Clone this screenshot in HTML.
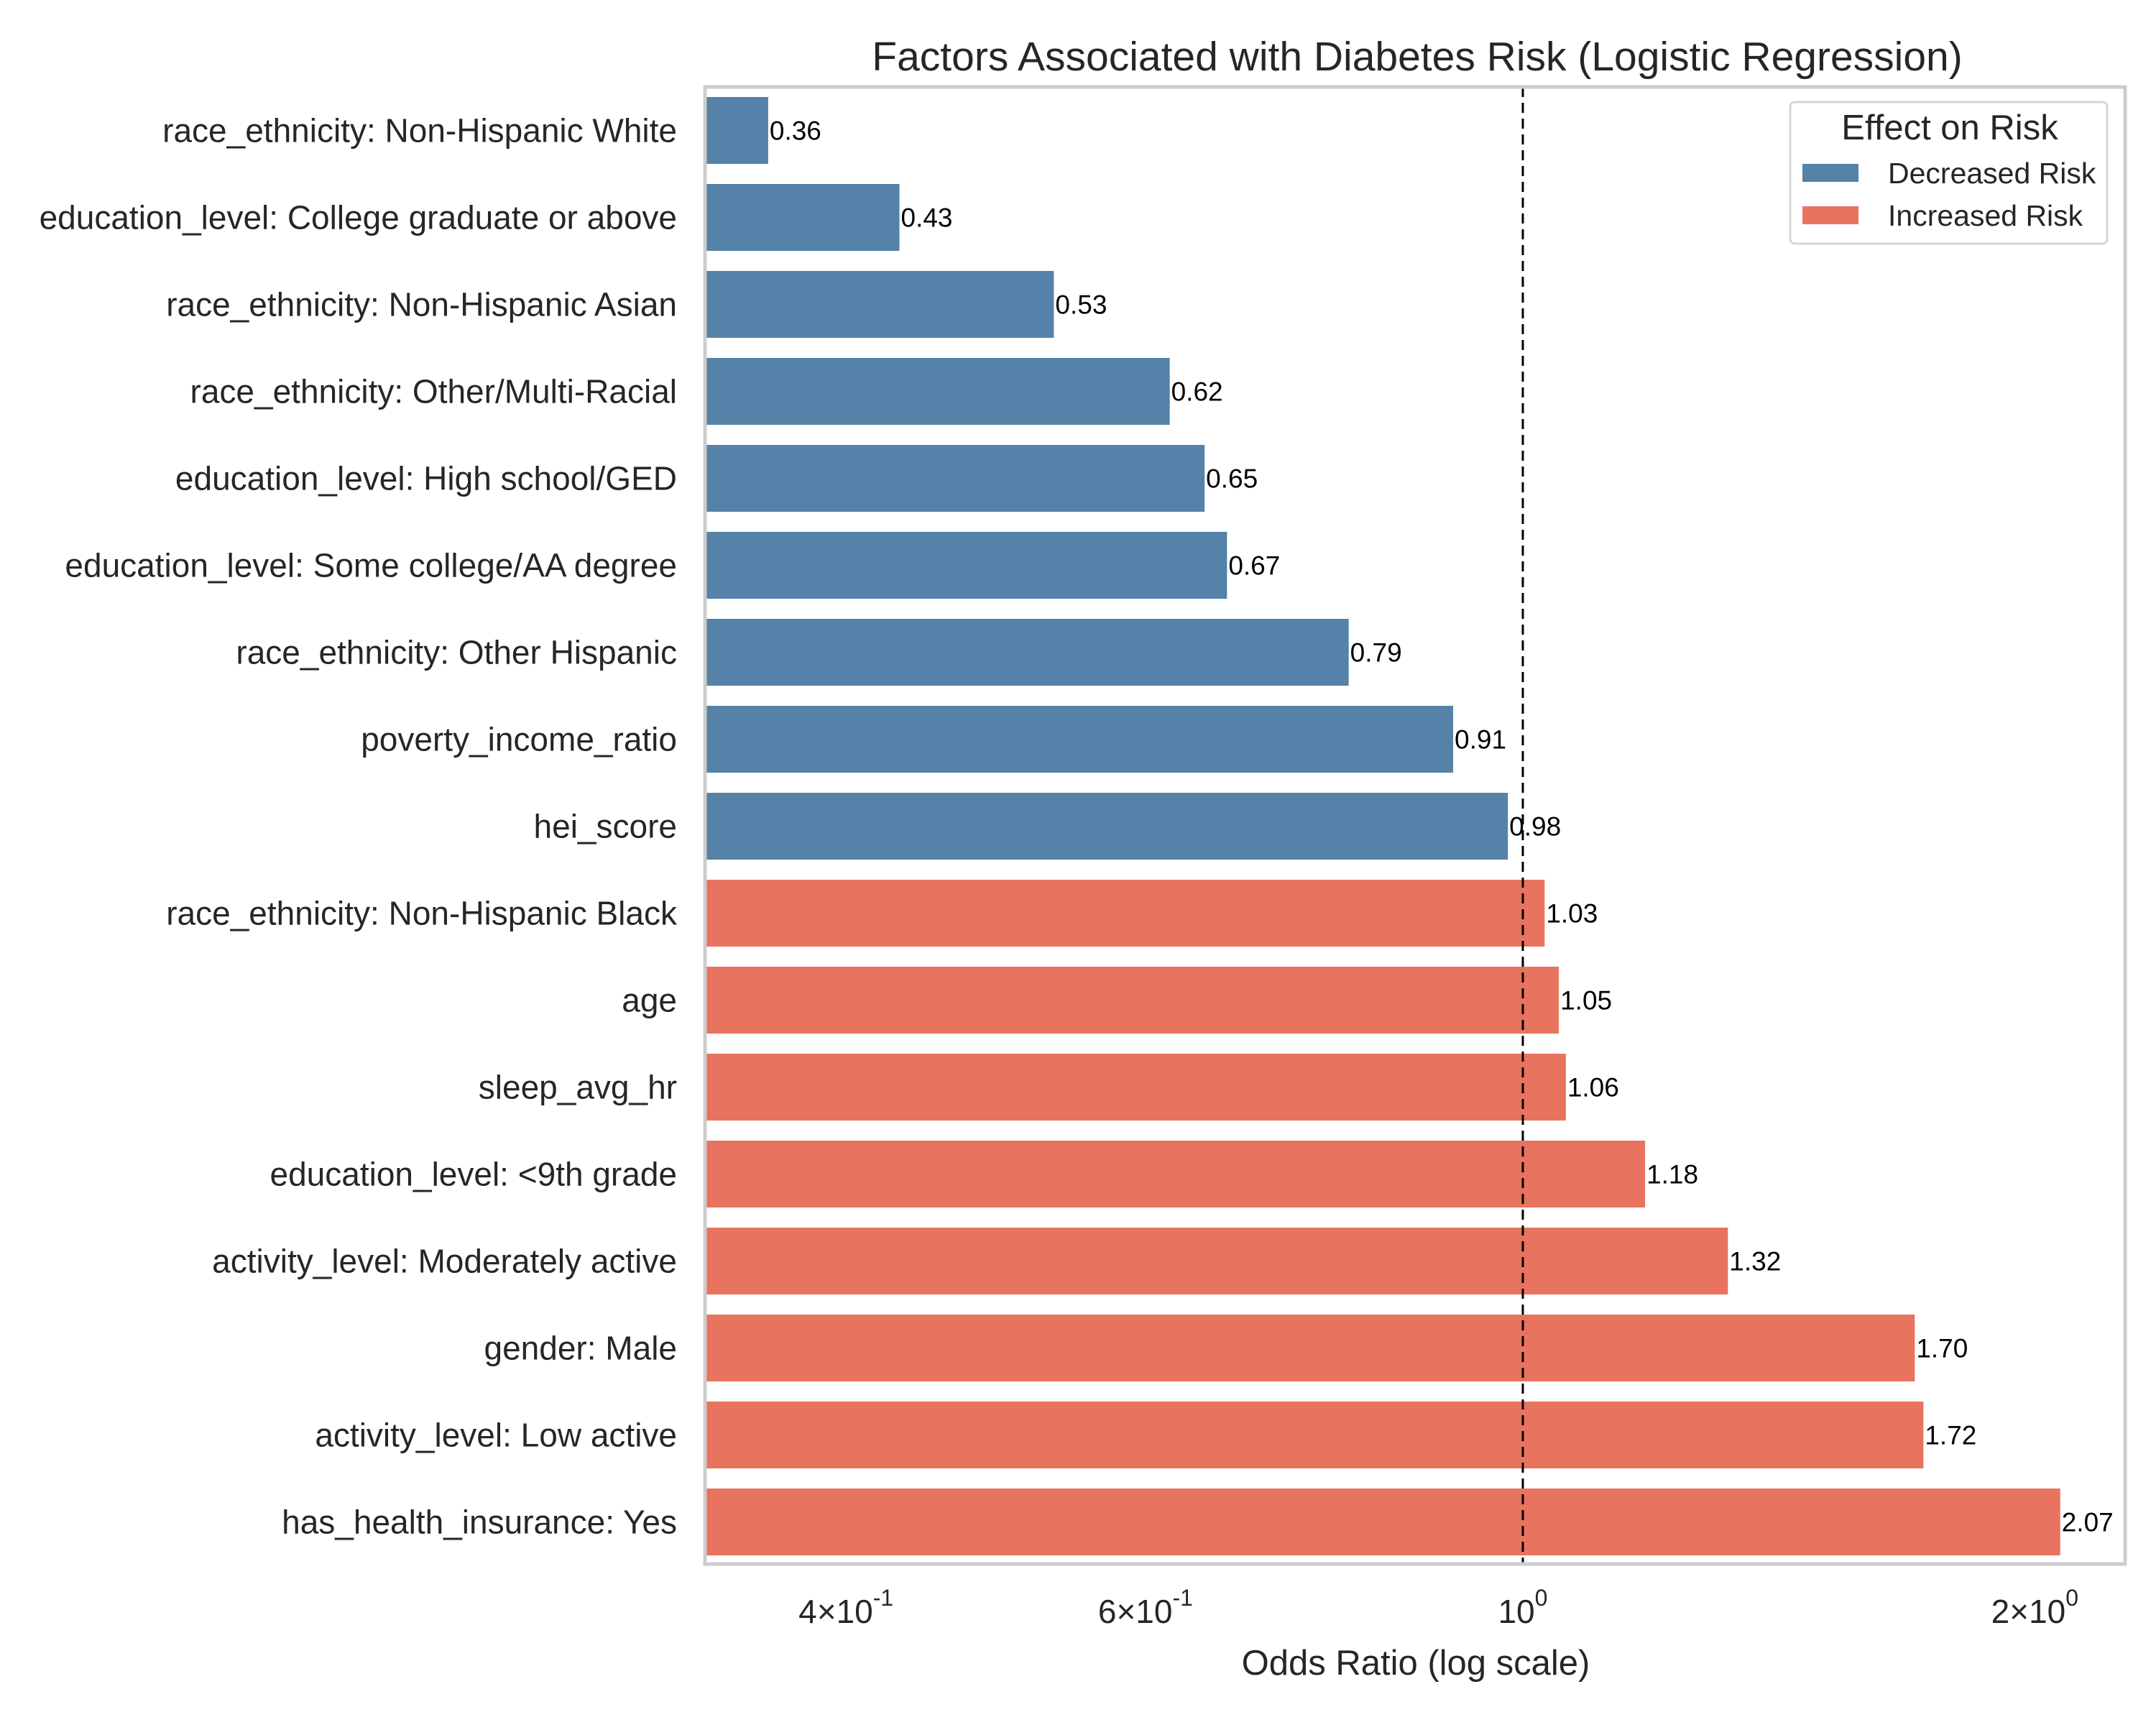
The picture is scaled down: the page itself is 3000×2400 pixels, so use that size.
<!DOCTYPE html>
<html><head><meta charset="utf-8"><style>
html,body{margin:0;padding:0;background:#fff;}
svg{display:block;font-family:"Liberation Sans",Arial,sans-serif;}
</style></head><body>
<svg id="chart" width="3000" height="2400" viewBox="0 0 3000 2400" xmlns="http://www.w3.org/2000/svg">
<text x="1972" y="98" font-size="57" text-anchor="middle" fill="#262626">Factors Associated with Diabetes Risk (Logistic Regression)</text>
<g id="plot"></g>
<rect x="981" y="121" width="1976" height="2055" fill="none" stroke="#cccccc" stroke-width="5"/>
<text x="1970" y="2330" font-size="49" text-anchor="middle" fill="#262626">Odds Ratio (log scale)</text>
<g>
<rect x="2491" y="142" width="441" height="197" rx="6" fill="#fff" stroke="#d5d5d5" stroke-width="3"/>
<text x="2713" y="194" font-size="49" text-anchor="middle" fill="#262626">Effect on Risk</text>
<rect x="2508" y="228" width="78" height="25" fill="#5482a8"/>
<text x="2627" y="255" font-size="41" fill="#262626">Decreased Risk</text>
<rect x="2508" y="287" width="78" height="25" fill="#e8735f"/>
<text x="2627" y="314" font-size="41" fill="#262626">Increased Risk</text>
</g>
</svg>
<script>
const categories = ["race_ethnicity: Non-Hispanic White","education_level: College graduate or above","race_ethnicity: Non-Hispanic Asian","race_ethnicity: Other/Multi-Racial","education_level: High school/GED","education_level: Some college/AA degree","race_ethnicity: Other Hispanic","poverty_income_ratio","hei_score","race_ethnicity: Non-Hispanic Black","age","sleep_avg_hr","education_level: <9th grade","activity_level: Moderately active","gender: Male","activity_level: Low active","has_health_insurance: Yes"];
const oddsRatios = [0.36,0.43,0.53,0.62,0.65,0.67,0.79,0.91,0.98,1.03,1.05,1.06,1.18,1.32,1.70,1.72,2.07];
const tickValues = [0.4,0.6,1,2];
const tickMantissa = ["4","6","","2"];
const tickExponent = ["-1","-1","0","0"];

const NS = "http://www.w3.org/2000/svg";
const plot = document.getElementById("plot");
const X0 = 981, X1 = 2957, Y0 = 121;
const xMin = 0.3305, xMax = 2.26;
function xScale(v){ return X0 + (Math.log(v)-Math.log(xMin))/(Math.log(xMax)-Math.log(xMin))*(X1-X0); }
const pitch = 121, barH = 93, firstTop = 135;
function yScale(i){ return firstTop + i*pitch; }
function mk(tag, attrs){ const e=document.createElementNS(NS,tag); for(const k in attrs) e.setAttribute(k,attrs[k]); return e; }

categories.forEach((c,i)=>{
  const v = oddsRatios[i];
  const y = yScale(i);
  const xb = xScale(xMin);
  const xe = xScale(v);
  const bar = mk("rect",{x:xb,y:y,width:xe-xb,height:barH,fill:v<1?"#5482a8":"#e8735f"});
  
  
  plot.appendChild(bar);
  const lab = mk("text",{x:942,y:y+barH/2+16,"font-size":46,"text-anchor":"end",fill:"#262626"});
  lab.textContent = c;
  
  
  plot.appendChild(lab);
  const val = mk("text",{x:xe+2,y:y+barH/2+13,"font-size":37,fill:"#000"});
  val.textContent = v.toFixed(2);
  
  
  plot.appendChild(val);
});

const ref = mk("line",{x1:xScale(1),x2:xScale(1),y1:Y0,y2:2176,stroke:"#000","stroke-width":3,"stroke-dasharray":"14 8"});


plot.appendChild(ref);

tickValues.forEach((t,i)=>{
  const x = xScale(t);
  const g = mk("text",{x:x,y:2258,"font-size":46,"text-anchor":"middle",fill:"#262626"});
  
  
  const base = tickMantissa[i] ? tickMantissa[i]+"\u00d710" : "10";
  const s1 = mk("tspan",{}); s1.textContent = base;
  const s2 = mk("tspan",{dy:-24,"font-size":32}); s2.textContent = tickExponent[i];
  g.appendChild(s1); g.appendChild(s2);
  plot.appendChild(g);
});
</script>
</body></html>
